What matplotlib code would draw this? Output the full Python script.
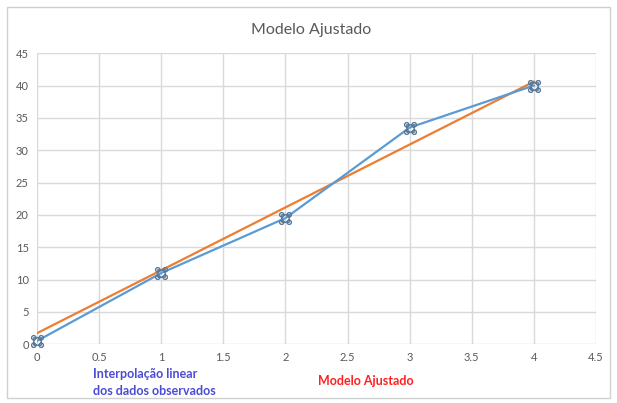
import numpy as np
import matplotlib
matplotlib.use("Agg")
from matplotlib import pyplot as plt
from matplotlib.path import Path
from matplotlib.patches import Rectangle

plt.rcParams['font.family'] = ['Lato', 'DejaVu Sans']

# data
x_obs = [0, 1, 2, 3, 4]
y_obs = [0.5, 11.0, 19.5, 33.5, 40.0]
x_fit = [0, 4]
y_fit = [1.7, 40.6]

x_ticks = [0, 0.5, 1, 1.5, 2, 2.5, 3, 3.5, 4, 4.5]
y_ticks = [0, 5, 10, 15, 20, 25, 30, 35, 40, 45]

# marker: four little rings on the corners of a square
circ = Path.circle((0, 0), 0.35)
parts = []
for cx, cy in [(-0.6, -0.6), (0.6, -0.6), (0.6, 0.6), (-0.6, 0.6)]:
    parts.append(Path(circ.vertices + [cx, cy], circ.codes))
parts.append(Path([(-0.6, -0.6), (0.6, -0.6), (0.6, 0.6), (-0.6, 0.6), (-0.6, -0.6)],
                  [Path.MOVETO, Path.LINETO, Path.LINETO, Path.LINETO, Path.LINETO]))
knot = Path.make_compound_path(*parts)

fig = plt.figure(figsize=(6.17, 4.03), dpi=100)
fig.patches.append(Rectangle((0.012, 0.012), 0.976, 0.97, transform=fig.transFigure,
                             fill=False, edgecolor='#d0d0d0', lw=1.0))

ax = fig.add_axes([0.060, 0.146, 0.906, 0.722])
ax.plot(x_fit, y_fit, color='#ed7d31', lw=1.6, zorder=3)
ax.plot(x_obs, y_obs, color='#5b9bd5', lw=1.6, zorder=4)
ax.plot(x_obs, y_obs, ls='none', marker=knot, ms=8.5, mfc='none', mec='#5a7a9a', mew=1.0,
        zorder=5, clip_on=False)

ax.set_xlim(0, 4.5)
ax.set_ylim(0, 45)
ax.set_xticks(x_ticks)
ax.set_xticklabels([f'{t:g}' for t in x_ticks])
ax.set_yticks(y_ticks)
ax.grid(True, color='#d9d9d9', lw=1.0)
ax.set_axisbelow(True)
for s in ax.spines.values():
    s.set_visible(False)
ax.tick_params(length=0, labelsize=8, colors='#595959', pad=6)

fig.text(0.505, 0.925, 'Modelo Ajustado', ha='center', va='center', fontsize=11.5, color='#595959')
fig.text(0.150, 0.051, 'Interpolação linear\ndos dados observados', ha='left', va='center',
         fontsize=9, fontweight='bold', color='#4b4bd6', linespacing=1.45)
fig.text(0.515, 0.054, 'Modelo Ajustado', ha='left', va='center',
         fontsize=9, fontweight='bold', color='#ff2020')

fig.savefig('out.png', dpi=100)
